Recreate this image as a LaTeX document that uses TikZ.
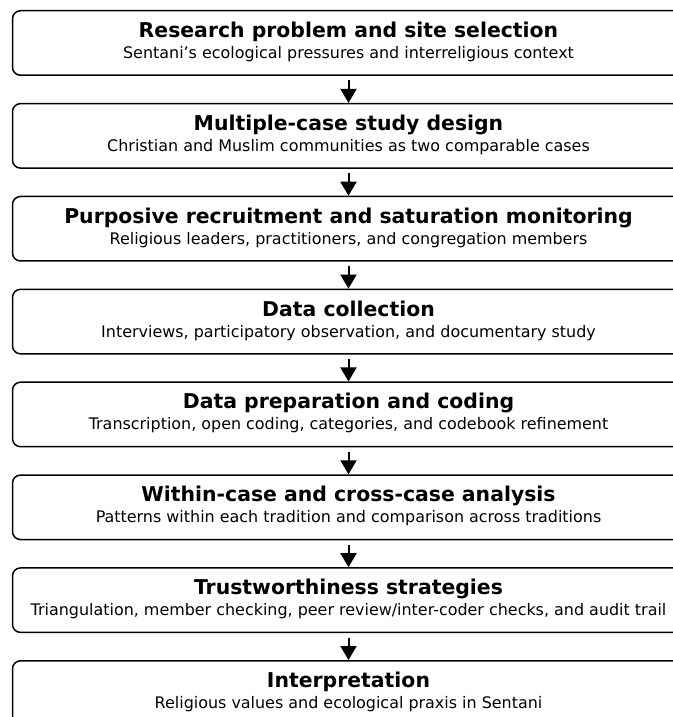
\documentclass[tikz,border=0pt]{standalone}
\usepackage{fontspec}
\setmainfont{DejaVu Sans}
\usetikzlibrary{arrows.meta}
\tikzset{
  stage/.style={draw=black, line width=1.5pt*0.75, rounded corners=8pt*0.75, minimum width=672*0.75pt, minimum height=64.5*0.75pt, anchor=north, inner sep=0pt},
  flow/.style={-{Triangle[length=14pt*0.75, width=16pt*0.75]}, line width=2pt*0.75, shorten <=4.5pt*0.75},
  ttl/.style={font=\fontsize{15.3}{17}\selectfont\bfseries, anchor=base},
  sub/.style={font=\fontsize{11.95}{14}\selectfont, anchor=base}
}
\begin{document}
\begin{tikzpicture}[x=0.75pt, y=-0.75pt]
\useasboundingbox (0,0) rectangle (673,717);
\clip (0,0) rectangle (673,717);
\foreach \i/\t/\s in {
 0/Research problem and site selection/Sentani’s ecological pressures and interreligious context,
 1/Multiple-case study design/Christian and Muslim communities as two comparable cases,
 2/Purposive recruitment and saturation monitoring/{Religious leaders, practitioners, and congregation members},
 3/Data collection/{Interviews, participatory observation, and documentary study},
 4/Data preparation and coding/{Transcription, open coding, categories, and codebook refinement},
 5/Within-case and cross-case analysis/Patterns within each tradition and comparison across traditions,
 6/Trustworthiness strategies/{Triangulation, member checking, peer review/inter-coder checks, and audit trail},
 7/Interpretation/Religious values and ecological praxis in Sentani}{
  \node[stage] (b\i) at (348.5, 10+92.86*\i) {};
  \node[ttl] (t\i) at (348.5, 37.5+92.86*\i) {\t};
  \node[sub] (s\i) at (348.5, 58.5+92.86*\i) {\s};
}
\foreach \i [evaluate=\i as \j using int(\i+1)] in {0,...,6}{
  \draw[flow] (b\i.south) -- (b\j.north);
}
\end{tikzpicture}
\end{document}
